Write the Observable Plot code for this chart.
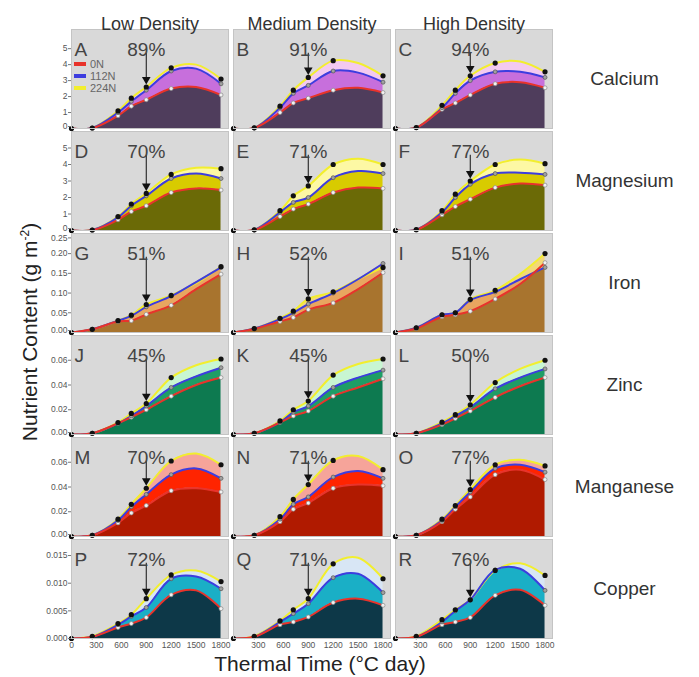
<!DOCTYPE html>
<html><head><meta charset="utf-8">
<script src="https://cdn.jsdelivr.net/npm/d3@7"></script>
<script src="https://cdn.jsdelivr.net/npm/@observablehq/plot@0.6"></script>
<style>
body{margin:0;background:#fff;font-family:"Liberation Sans",Arial,sans-serif;}
#wrap{position:relative;width:699px;height:677px;overflow:hidden;}
.row{position:absolute;left:0;}
.ylab{position:absolute;left:30px;top:332px;transform:translate(-50%,-50%) rotate(-90deg);white-space:nowrap;font-size:21px;color:#222;}
.xlab{position:absolute;left:320px;top:664px;transform:translate(-50%,-50%);white-space:nowrap;font-size:21px;color:#222;}
.legend{position:absolute;left:74px;top:58px;font-size:11px;color:#666;line-height:12px;}
.legend div{display:flex;align-items:center;height:12px;}
.legend span.sw{display:inline-block;width:12px;height:4px;margin-right:4px;}
</style></head><body><div id="wrap"></div>
<script>
const densities = ["Low Density", "Medium Density", "High Density"];
const nutrients = ["Calcium", "Magnesium", "Iron", "Zinc", "Manganese", "Copper"];
const letters = [["A","B","C"],["D","E","F"],["G","H","I"],["J","K","L"],["M","N","O"],["P","Q","R"]];
const percents = [[89,91,94],[70,71,77],[51,52,51],[45,45,50],[70,71,77],[72,71,76]];
const times = [0, 250, 560, 720, 900, 1200, 1500, 1800];
const sampled = [true, true, true, true, true, true, false, true];
const arrowTime = 900;
const xTicks = [0, 300, 600, 900, 1200, 1500, 1800];
const yMax = [6.2, 6.0, 0.251, 0.080, 0.080, 0.0179];
const yTicks = [[0,1,2,3,4,5],[0,1,2,3,4,5],[0,0.05,0.10,0.15,0.20,0.25],[0,0.02,0.04,0.06],[0,0.02,0.04,0.06],[0,0.005,0.010,0.015]];
const yFormats = ["d","d",".2f",".2f",".2f",".3f"];
const nLevels = ["0N", "112N", "224N"];
const lineColors = ["#e8332b", "#3d3ddf", "#f2ee2e"];
const baseFill = ["#4f3d5c", "#6b6a06", "#a8742e", "#0d7a50", "#b01a00", "#0d3848"];
const midFill  = ["#c76fdc", "#d8cb00", "#e8a660", "#1e9e66", "#ff2400", "#1aafc6"];
const topFill  = ["#f3c9f0", "#fdf8a4", "#f3d878", "#c8f6d2", "#f6a49a", "#d8e6f5"];

// values at times [0,250,560,720,900,1200,1500,1800]; [low, medium, high]
const calcium0N   = [[0,0.02,0.8,1.4,1.8,2.5,2.6,2.1],[0,0.03,1.0,1.6,1.9,2.4,2.55,2.25],[0,0.05,1.2,1.6,2.1,2.8,2.9,2.55]];
const calcium112N = [[0,0.03,1.0,1.7,2.4,3.6,3.75,2.8],[0,0.04,1.3,2.2,2.7,3.6,3.5,2.9],[0,0.06,1.3,2.2,3.0,3.55,3.55,3.2]];
const calcium224N = [[0,0.03,1.1,1.9,2.6,3.8,4.0,3.1],[0,0.04,1.4,2.4,3.2,4.25,4.1,3.3],[0,0.06,1.45,2.4,3.3,4.1,4.2,3.55]];
const magnesium0N   = [[0,0.02,0.65,1.15,1.5,2.3,2.55,2.45],[0,0.03,0.85,1.3,1.6,2.3,2.6,2.55],[0,0.04,0.95,1.45,1.9,2.6,2.85,2.75]];
const magnesium112N = [[0,0.03,0.8,1.5,2.1,3.15,3.45,3.15],[0,0.04,1.1,1.7,2.0,3.2,3.6,3.45],[0,0.05,1.1,2.0,2.8,3.45,3.5,3.4]];
const magnesium224N = [[0,0.03,0.85,1.6,2.25,3.4,3.8,3.75],[0,0.04,1.2,2.1,2.7,4.0,4.35,4.0],[0,0.05,1.2,2.2,3.0,4.0,4.3,4.05]];
const iron0N   = [[0,0.008,0.028,0.03,0.046,0.069,0.11,0.148],[0,0.009,0.028,0.038,0.058,0.075,0.11,0.152],[0,0.01,0.04,0.045,0.054,0.085,0.123,0.177]];
const iron112N = [[0,0.008,0.03,0.042,0.065,0.092,0.128,0.165],[0,0.01,0.034,0.05,0.072,0.1,0.135,0.175],[0,0.012,0.045,0.05,0.082,0.103,0.135,0.165]];
const iron224N = [[0,0.008,0.03,0.044,0.071,0.094,0.125,0.167],[0,0.01,0.036,0.054,0.085,0.103,0.135,0.165],[0,0.012,0.045,0.05,0.084,0.107,0.148,0.2]];
const zinc0N   = [[0,0.001,0.009,0.014,0.02,0.031,0.04,0.046],[0,0.001,0.0097,0.015,0.019,0.031,0.038,0.045],[0,0.001,0.008,0.013,0.019,0.03,0.039,0.046]];
const zinc112N = [[0,0.001,0.009,0.015,0.023,0.038,0.047,0.054],[0,0.001,0.01,0.018,0.023,0.038,0.046,0.052],[0,0.001,0.009,0.015,0.022,0.037,0.046,0.053]];
const zinc224N = [[0,0.001,0.0097,0.017,0.025,0.046,0.056,0.061],[0,0.001,0.011,0.02,0.027,0.048,0.057,0.061],[0,0.001,0.01,0.016,0.024,0.042,0.053,0.06]];
const manganese0N   = [[0,0.001,0.011,0.019,0.025,0.037,0.039,0.036],[0,0.001,0.012,0.022,0.027,0.039,0.042,0.041],[0,0.001,0.012,0.022,0.032,0.05,0.054,0.046]];
const manganese112N = [[0,0.001,0.013,0.024,0.034,0.05,0.055,0.047],[0,0.001,0.014,0.026,0.032,0.048,0.053,0.047],[0,0.001,0.013,0.024,0.036,0.055,0.058,0.052]];
const manganese224N = [[0,0.001,0.014,0.026,0.039,0.061,0.067,0.058],[0,0.001,0.016,0.03,0.042,0.0615,0.065,0.054],[0,0.001,0.014,0.025,0.038,0.058,0.062,0.057]];
const copper0N   = [[0,0.0003,0.002,0.0027,0.0038,0.0079,0.0087,0.0054],[0,0.0003,0.0025,0.003,0.0039,0.0065,0.0072,0.006],[0,0.0003,0.0025,0.003,0.0038,0.0078,0.0088,0.006]];
const copper112N = [[0,0.0003,0.0025,0.004,0.0056,0.0108,0.0112,0.009],[0,0.0003,0.003,0.0045,0.0063,0.011,0.0117,0.0083],[0,0.0003,0.003,0.005,0.007,0.0124,0.0126,0.0087]];
const copper224N = [[0,0.0004,0.0027,0.0043,0.0072,0.0115,0.0123,0.0103],[0,0.0004,0.0032,0.0052,0.0072,0.0135,0.0146,0.0108],[0,0.0004,0.0034,0.0052,0.007,0.0123,0.0136,0.0114]];

const seriesByRow = [
  [calcium0N, calcium112N, calcium224N],
  [magnesium0N, magnesium112N, magnesium224N],
  [iron0N, iron112N, iron224N],
  [zinc0N, zinc112N, zinc224N],
  [manganese0N, manganese112N, manganese224N],
  [copper0N, copper112N, copper224N]
];

const rowTops = [29, 131, 233, 335, 437, 539];
const frameH = 99;
const wrap = document.getElementById("wrap");
const C = "catmull-rom";

nutrients.forEach((nut, i) => {
  const s = seriesByRow[i];
  const data = [];
  densities.forEach((d, j) => times.forEach((t, k) => data.push({
    density: d, t, n0: s[0][j][k], n112: s[1][j][k], n224: s[2][j][k], sampled: sampled[k]
  })));
  const pts = data.filter(d => d.sampled);
  const k900 = times.indexOf(arrowTime);
  const panels = densities.map((d, j) => ({
    density: d, t: arrowTime, letter: letters[i][j], pct: percents[i][j] + "%",
    top: yMax[i] * 0.76, tip: s[2][j][k900] + yMax[i] * 0.075
  }));
  const isFirst = i === 0, isLast = i === nutrients.length - 1;
  const mt = isFirst ? 29 : 6;
  const mb = isLast ? 22 : 4;
  const ticks = yTicks[i];
  const axisOpts = {tickFormat: d3.format(yFormats[i]), tickSize: 3, tickPadding: 1, label: null, fontSize: 8.5, fill: "#555", stroke: "#777"};
  // the lowest tick of a row and the highest of the next row would collide; nudge them apart
  const lowTick = ticks[0], highTick = ticks[ticks.length - 1];
  const topTouches = yMax[i] - highTick < yMax[i] * 0.02;
  const midTicks = ticks.filter(t => t !== lowTick && !(topTouches && t === highTick));
  const axes = [
    Plot.axisY({...axisOpts, ticks: midTicks}),
    Plot.axisY({...axisOpts, ticks: [lowTick], dy: isLast ? 0 : -2})
  ];
  if (topTouches) axes.push(Plot.axisY({...axisOpts, ticks: [highTick], dy: 4}));
  const marks = [
    Plot.frame({fill: "#d9d9d9"}),
    Plot.areaY(data, {fx: "density", x: "t", y: "n0", fill: baseFill[i], curve: C, clip: true}),
    Plot.areaY(data, {fx: "density", x: "t", y1: "n0", y2: "n112", fill: midFill[i], curve: C, clip: true}),
    Plot.areaY(data, {fx: "density", x: "t", y1: "n112", y2: "n224", fill: topFill[i], curve: C, clip: true}),
    Plot.lineY(data, {fx: "density", x: "t", y: "n224", stroke: lineColors[2], strokeWidth: 2, curve: C, clip: true}),
    Plot.lineY(data, {fx: "density", x: "t", y: "n112", stroke: lineColors[1], strokeWidth: 2, curve: C, clip: true}),
    Plot.lineY(data, {fx: "density", x: "t", y: "n0", stroke: lineColors[0], strokeWidth: 2, curve: C, clip: true}),
    Plot.dot(pts, {fx: "density", x: "t", y: "n0", r: 2, fill: "#f2f2f2", stroke: "#888", strokeWidth: 0.7}),
    Plot.dot(pts, {fx: "density", x: "t", y: "n112", r: 2, fill: "#a0a0a0", stroke: "#555", strokeWidth: 0.7}),
    Plot.dot(pts, {fx: "density", x: "t", y: "n224", r: 2.6, fill: "#111"}),
    Plot.ruleX(panels, {fx: "density", x: "t", y1: "top", y2: "tip", stroke: "#111", strokeWidth: 1}),
    Plot.dot(panels, {fx: "density", x: "t", y: "tip", symbol: "triangle", rotate: 180, r: 3.2, fill: "#111"}),
    Plot.text(panels, {fx: "density", x: "t", frameAnchor: "top", dy: 13, text: "pct", fontSize: 19, fill: "#444"}),
    Plot.text(panels, {fx: "density", frameAnchor: "top-left", dx: 3, dy: 13, text: "letter", fontSize: 19, fill: "#444"}),
    Plot.frame({stroke: "#c4c4c4"}),
    ...axes,
    Plot.text([nut], {fx: () => densities[2], frameAnchor: "right", dx: 72, textAnchor: "middle", text: d => d, fontSize: 19, fill: "#333"})
  ];
  if (isFirst) {
    marks.push(Plot.text(densities, {fx: d => d, frameAnchor: "top", dy: -12, text: d => d, fontSize: 18, fill: "#333"}));
  }
  if (isLast) {
    const tickRows = [];
    densities.forEach((d, j) => xTicks.forEach(t => { if (j === 0 || t > 0) tickRows.push({density: d, t}); }));
    marks.push(Plot.text(tickRows, {fx: "density", x: "t", frameAnchor: "bottom", dy: 9, text: d => String(d.t), fontSize: 8.5, fill: "#555"}));
  }
  const chart = Plot.plot({
    width: 699,
    height: mt + frameH + mb,
    marginLeft: 70, marginRight: 146, marginTop: mt, marginBottom: mb,
    style: {background: "transparent", overflow: "visible", fontFamily: "'Liberation Sans', Arial, sans-serif", fontSize: "9px", color: "#555"},
    x: {domain: [0, 1890], axis: null},
    y: {domain: [0, yMax[i]]},
    fx: {domain: densities, axis: null, paddingInner: 0.03, paddingOuter: 0},
    marks
  });
  const div = document.createElement("div");
  div.className = "row";
  div.style.top = (rowTops[i] - mt) + "px";
  div.appendChild(chart);
  wrap.appendChild(div);
});

// legend (panel A)
const legend = document.createElement("div");
legend.className = "legend";
nLevels.forEach((n, k) => {
  const r = document.createElement("div");
  r.innerHTML = `<span class="sw" style="background:${lineColors[k]}"></span>${n}`;
  legend.appendChild(r);
});
wrap.appendChild(legend);

const yl = document.createElement("div");
yl.className = "ylab";
yl.innerHTML = "Nutrient Content (g m<sup style='font-size:12px'>-2</sup>)";
wrap.appendChild(yl);
const xl = document.createElement("div");
xl.className = "xlab";
xl.textContent = "Thermal Time (°C day)";
wrap.appendChild(xl);
</script></body></html>
